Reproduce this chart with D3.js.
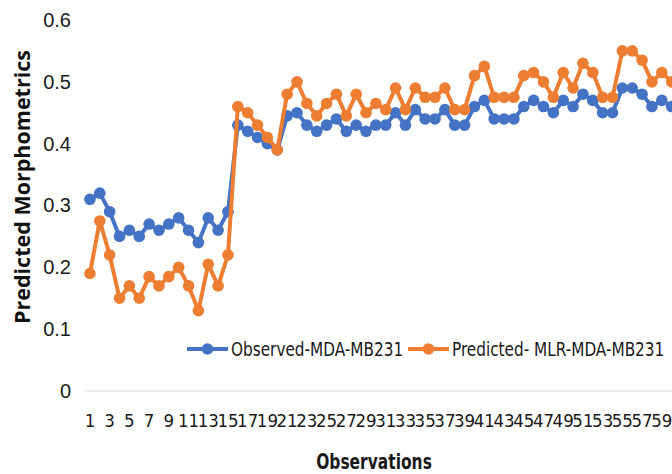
<!DOCTYPE html>
<html>
<head>
<meta charset="utf-8">
<script src="https://cdn.jsdelivr.net/npm/d3@7"></script>
<style>
  html, body { margin: 0; padding: 0; background: #fff; }
  svg { display: block; }
</style>
</head>
<body>
<svg id="chart" width="672" height="474"></svg>
<script>
const categories = d3.range(1, 61);
const observed = [0.31,0.32,0.29,0.25,0.26,0.25,0.27,0.26,0.27,0.28,0.26,0.24,0.28,0.26,0.29,
  0.43,0.42,0.41,0.40,0.39,
  0.445,0.45,0.43,0.42,0.43,0.44,0.42,0.43,0.42,0.43,0.43,0.45,0.43,0.455,0.44,0.44,0.455,0.43,0.43,0.46,
  0.47,0.44,0.44,0.44,0.46,0.47,0.46,0.45,0.47,0.46,0.48,0.47,0.45,0.45,0.49,0.49,0.48,0.46,0.47,0.46];
const predicted = [0.19,0.275,0.22,0.15,0.17,0.15,0.185,0.17,0.185,0.2,0.17,0.13,0.205,0.17,0.22,
  0.46,0.45,0.43,0.41,0.39,
  0.48,0.5,0.465,0.445,0.465,0.48,0.445,0.48,0.45,0.465,0.455,0.49,0.455,0.49,0.475,0.475,0.49,0.455,0.455,0.51,
  0.525,0.475,0.475,0.475,0.51,0.515,0.5,0.475,0.515,0.49,0.53,0.515,0.475,0.475,0.55,0.55,0.535,0.5,0.515,0.5];
const yTicks = [0, 0.1, 0.2, 0.3, 0.4, 0.5, 0.6];
const xTickLabels = categories.filter(d => d % 2 === 1);
const seriesNames = ["Observed-MDA-MB231", "Predicted- MLR-MDA-MB231"];
const seriesColors = ["#4472C4", "#ED7D31"];

const svg = d3.select("#chart");
const pLeft = 85, pRight = 676.6, pTop = 20, pBottom = 391;
const narrow = "'Liberation Sans Narrow', 'DejaVu Sans Condensed', sans-serif";
const regular = "'Liberation Sans', Arial, sans-serif";

const x = d3.scaleBand().domain(categories).range([pLeft, pRight]).padding(0);
const cx = d => x(d) + x.bandwidth() / 2;
const y = d3.scaleLinear().domain([0, 0.6]).range([pBottom, pTop]);

// baseline gridline
svg.append("line")
  .attr("x1", pLeft).attr("x2", pRight)
  .attr("y1", y(0)).attr("y2", y(0))
  .attr("stroke", "#d9d9d9").attr("stroke-width", 1);

// y axis
const yAxis = svg.append("g")
  .attr("transform", `translate(${pLeft},0)`)
  .call(d3.axisLeft(y).tickValues(yTicks).tickSize(0).tickPadding(14)
    .tickFormat(d => d === 0 ? "0" : d3.format(".1f")(d)));
yAxis.select(".domain").remove();
yAxis.selectAll("text").attr("font-family", regular).attr("font-size", 20).attr("fill", "#1a1a1a");

// x axis
const xAxis = svg.append("g")
  .attr("transform", `translate(0,${pBottom})`)
  .call(d3.axisBottom(x).tickValues(xTickLabels).tickSize(0).tickPadding(23));
xAxis.select(".domain").remove();
xAxis.selectAll("text").attr("font-family", narrow).attr("font-size", 18.5).attr("fill", "#1a1a1a");

// series
const data = [observed, predicted];
data.forEach((vals, i) => {
  const pts = categories.map((c, j) => [cx(c), y(vals[j])]);
  svg.append("path")
    .attr("d", d3.line()(pts))
    .attr("fill", "none")
    .attr("stroke", seriesColors[i])
    .attr("stroke-width", 4)
    .attr("stroke-linejoin", "round");
  svg.append("g").selectAll("circle").data(pts).join("circle")
    .attr("cx", d => d[0]).attr("cy", d => d[1]).attr("r", 5.8)
    .attr("fill", seriesColors[i]);
});

// legend
const legendItems = [
  { x0: 187, x1: 228, tx: 231 },
  { x0: 408, x1: 449, tx: 452 }
];
legendItems.forEach((it, i) => {
  const ly = 349;
  svg.append("line").attr("x1", it.x0).attr("x2", it.x1).attr("y1", ly).attr("y2", ly)
    .attr("stroke", seriesColors[i]).attr("stroke-width", 4);
  svg.append("circle").attr("cx", (it.x0 + it.x1) / 2).attr("cy", ly).attr("r", 5.8)
    .attr("fill", seriesColors[i]);
  svg.append("text")
    .attr("transform", `translate(${it.tx},${ly}) scale(0.85,1)`)
    .attr("dy", "0.35em")
    .attr("font-family", narrow).attr("font-size", 20).attr("fill", "#1a1a1a")
    .text(seriesNames[i]);
});

// axis titles
svg.append("text")
  .attr("transform", "translate(374,462) scale(0.82,1)")
  .attr("dy", "0.35em").attr("text-anchor", "middle")
  .attr("font-family", narrow).attr("font-size", 21).attr("font-weight", "bold").attr("fill", "#1a1a1a")
  .text("Observations");
svg.append("text")
  .attr("transform", "translate(22,187) rotate(-90)")
  .attr("text-anchor", "middle").attr("dy", "0.35em")
  .attr("font-family", "'Open Sans', sans-serif").attr("font-size", 21.5).attr("font-weight", "bold").attr("fill", "#111")
  .text("Predicted Morphometrics");
</script>
</body>
</html>
